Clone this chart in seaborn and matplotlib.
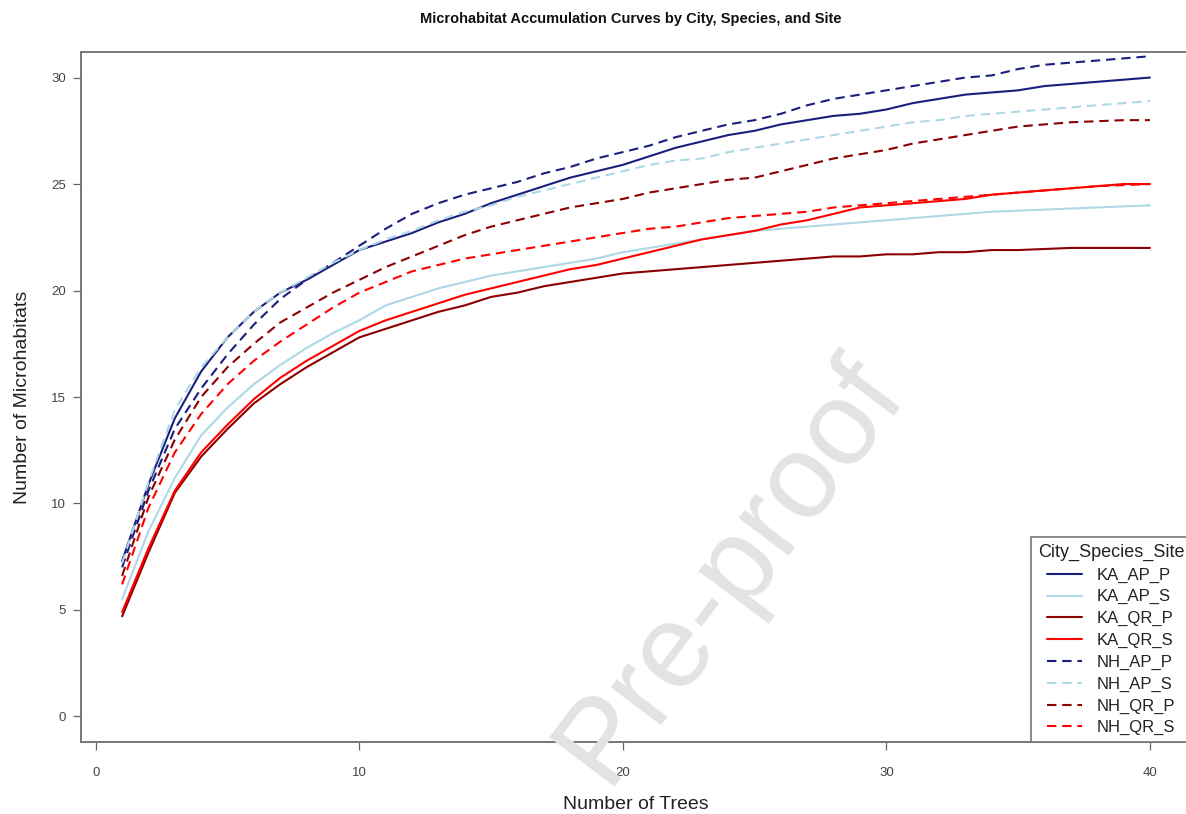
import numpy as np
import pandas as pd
import matplotlib
matplotlib.use("Agg")
import matplotlib.pyplot as plt
from matplotlib.lines import Line2D
import seaborn as sns

# ---------------- data ----------------
trees = list(range(1, 41))

groups = ["KA_AP_P", "KA_AP_S", "KA_QR_P", "KA_QR_S",
          "NH_AP_P", "NH_AP_S", "NH_QR_P", "NH_QR_S"]

KA_AP_P = [7.3, 10.9, 14.0, 16.2, 17.8, 19.0, 19.9, 20.5, 21.2, 21.9,
           22.3, 22.7, 23.2, 23.6, 24.1, 24.5, 24.9, 25.3, 25.6, 25.9,
           26.3, 26.7, 27.0, 27.3, 27.5, 27.8, 28.0, 28.2, 28.3, 28.5,
           28.8, 29.0, 29.2, 29.3, 29.4, 29.6, 29.7, 29.8, 29.9, 30.0]
KA_AP_S = [5.5, 8.7, 11.2, 13.2, 14.5, 15.6, 16.5, 17.3, 18.0, 18.6,
           19.3, 19.7, 20.1, 20.4, 20.7, 20.9, 21.1, 21.3, 21.5, 21.8,
           22.0, 22.2, 22.4, 22.6, 22.8, 22.9, 23.0, 23.1, 23.2, 23.3,
           23.4, 23.5, 23.6, 23.7, 23.75, 23.8, 23.85, 23.9, 23.95, 24.0]
KA_QR_P = [4.7, 7.7, 10.5, 12.2, 13.5, 14.7, 15.6, 16.4, 17.1, 17.8,
           18.2, 18.6, 19.0, 19.3, 19.7, 19.9, 20.2, 20.4, 20.6, 20.8,
           20.9, 21.0, 21.1, 21.2, 21.3, 21.4, 21.5, 21.6, 21.6, 21.7,
           21.7, 21.8, 21.8, 21.9, 21.9, 21.95, 22.0, 22.0, 22.0, 22.0]
KA_QR_S = [4.9, 7.9, 10.6, 12.4, 13.7, 14.9, 15.9, 16.7, 17.4, 18.1,
           18.6, 19.0, 19.4, 19.8, 20.1, 20.4, 20.7, 21.0, 21.2, 21.5,
           21.8, 22.1, 22.4, 22.6, 22.8, 23.1, 23.3, 23.6, 23.9, 24.0,
           24.1, 24.2, 24.3, 24.5, 24.6, 24.7, 24.8, 24.9, 25.0, 25.0]
NH_AP_P = [7.0, 10.6, 13.5, 15.4, 17.0, 18.4, 19.6, 20.5, 21.3, 22.1,
           22.9, 23.6, 24.1, 24.5, 24.8, 25.1, 25.5, 25.8, 26.2, 26.5,
           26.8, 27.2, 27.5, 27.8, 28.0, 28.3, 28.7, 29.0, 29.2, 29.4,
           29.6, 29.8, 30.0, 30.1, 30.4, 30.6, 30.7, 30.8, 30.9, 31.0]
NH_AP_S = [7.2, 11.0, 14.4, 16.4, 17.8, 19.0, 19.9, 20.6, 21.3, 21.9,
           22.4, 22.8, 23.3, 23.7, 24.0, 24.4, 24.7, 25.0, 25.3, 25.6,
           25.9, 26.1, 26.2, 26.5, 26.7, 26.9, 27.1, 27.3, 27.5, 27.7,
           27.9, 28.0, 28.2, 28.3, 28.4, 28.5, 28.6, 28.7, 28.8, 28.9]
NH_QR_P = [6.6, 10.3, 13.0, 15.0, 16.4, 17.5, 18.5, 19.2, 19.9, 20.5,
           21.1, 21.6, 22.1, 22.6, 23.0, 23.3, 23.6, 23.9, 24.1, 24.3,
           24.6, 24.8, 25.0, 25.2, 25.3, 25.6, 25.9, 26.2, 26.4, 26.6,
           26.9, 27.1, 27.3, 27.5, 27.7, 27.8, 27.9, 27.95, 28.0, 28.0]
NH_QR_S = [6.2, 9.8, 12.4, 14.2, 15.6, 16.7, 17.6, 18.4, 19.2, 19.9,
           20.4, 20.9, 21.2, 21.5, 21.7, 21.9, 22.1, 22.3, 22.5, 22.7,
           22.9, 23.0, 23.2, 23.4, 23.5, 23.6, 23.7, 23.9, 24.0, 24.1,
           24.2, 24.3, 24.4, 24.5, 24.6, 24.7, 24.8, 24.9, 24.95, 25.0]

series = [KA_AP_P, KA_AP_S, KA_QR_P, KA_QR_S, NH_AP_P, NH_AP_S, NH_QR_P, NH_QR_S]

x_ticks = [0, 10, 20, 30, 40]
y_ticks = [0, 5, 10, 15, 20, 25, 30]

# ---------------- styling ----------------
colors = {"KA_AP_P": "#1b1f7c", "KA_AP_S": "#add8e6", "KA_QR_P": "#8b0000", "KA_QR_S": "#ff0000",
          "NH_AP_P": "#1b1f7c", "NH_AP_S": "#add8e6", "NH_QR_P": "#8b0000", "NH_QR_S": "#ff0000"}
dash_pat = (4.5, 2.8)
dashes = {g: ("" if g.startswith("KA") else dash_pat) for g in groups}

df = pd.concat([pd.DataFrame({"Trees": trees, "Microhabitats": v, "Group": g})
                for g, v in zip(groups, series)], ignore_index=True)

sns.set_theme(style="white")
plt.rcParams["font.family"] = ["Liberation Sans", "DejaVu Sans"]

W, H = 1186, 814
fig = plt.figure(figsize=(W / 100, H / 100), dpi=100)
ax = fig.add_axes([81 / W, 1 - 742 / H, (1191 - 81) / W, (742 - 52) / H])

sns.lineplot(data=df, x="Trees", y="Microhabitats", hue="Group", style="Group",
             palette=colors, dashes=dashes, linewidth=1.5, legend=False, ax=ax)

ax.set_xlim(-0.56, 41.56)
ax.set_ylim(-1.2, 31.2)
ax.set_xticks(x_ticks)
ax.set_yticks(y_ticks)
ax.tick_params(axis="both", which="major", direction="out", length=6, width=0.9,
               color="#666666", labelcolor="#444444", labelsize=9.5,
               bottom=True, left=True)
ax.tick_params(axis="x", pad=12)
ax.tick_params(axis="y", pad=5)
for s in ax.spines.values():
    s.set_color("#777777")
    s.set_linewidth(1.4)

ax.set_xlabel("Number of Trees", fontsize=14, color="#222222", labelpad=12)
ax.set_ylabel("Number of Microhabitats", fontsize=14, color="#222222", labelpad=14)
fig.text(0.532, 1 - 19 / H, "Microhabitat Accumulation Curves by City, Species, and Site",
         ha="center", va="center", fontsize=10.5, fontweight="bold", color="#111111")

handles = [Line2D([0], [0], color=colors[g], lw=1.5,
                  linestyle="-" if g.startswith("KA") else (0, dash_pat)) for g in groups]
leg = ax.legend(handles, groups, title="City_Species_Site", loc="lower right",
                bbox_to_anchor=(1.0, 0.0), borderaxespad=0, fontsize=12,
                title_fontsize=13, frameon=True, fancybox=False, framealpha=1,
                edgecolor="#777777", handlelength=2.1, handletextpad=0.9,
                labelspacing=0.40, borderpad=0.4)
leg.get_frame().set_linewidth(1.2)
for t in leg.get_texts():
    t.set_color("#222222")
leg.get_title().set_color("#222222")

# faint watermark seen in the reference
fig.text(905 / W, 1 - 390 / H, "Pre-proof", rotation=53, rotation_mode="anchor",
         ha="right", va="baseline", fontsize=86, color="#e3e3e3", zorder=0)

fig.savefig("out.png", dpi=100)
